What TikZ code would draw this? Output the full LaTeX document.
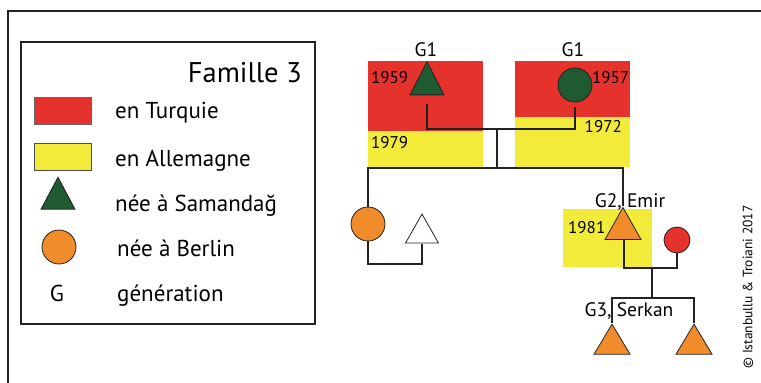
\documentclass[tikz,border=0pt]{standalone}
\usepackage{fontspec}
\setmainfont{PT Sans}
\usetikzlibrary{shapes.geometric}

\definecolor{TurkeyRed}{HTML}{E5322D}
\definecolor{GermanyYellow}{HTML}{F3EB3A}
\definecolor{BerlinOrange}{HTML}{F08C2A}
\definecolor{SamandagGreen}{HTML}{1F5A32}
\definecolor{LineGray}{HTML}{222222}

\providecommand{\LegendSize}{\fontsize{23}{27}\selectfont}
\providecommand{\TitleSize}{\fontsize{28.5}{32}\selectfont}
\providecommand{\LabelSize}{\fontsize{19.5}{22}\selectfont}
\providecommand{\YearSize}{\fontsize{17}{20}\selectfont}

\tikzset{
    male/.style={
        isosceles triangle,
        isosceles triangle stretches,
        shape border rotate=90,
        draw=LineGray,
        line width=0.8pt,
        inner sep=0pt,
        minimum width=34pt,
        minimum height=32pt
    },
    female/.style={
        circle,
        draw=LineGray,
        line width=0.8pt,
        inner sep=0pt,
        minimum size=34pt
    },
    link/.style={draw=LineGray, line width=1.3pt},
    legtext/.style={anchor=base west, font=\LegendSize, inner sep=0pt},
    label/.style={anchor=base, font=\LabelSize, inner sep=0pt},
    year/.style={font=\YearSize, inner sep=0pt}
}

\begin{document}
\begin{tikzpicture}[x=1pt,y=-1pt]

% Page size
\useasboundingbox (0,0) rectangle (761,383);
\fill[white] (0,0) rectangle (761,383);

% =====================================================
% OUTER FRAME
% =====================================================
\draw[line width=2.2pt, LineGray] (8,383) -- (8,11) -- (761,11);

% =====================================================
% LEGEND
% =====================================================
\draw[line width=1.4pt, LineGray] (21,42) rectangle (315,324);

\node[anchor=base east, font=\TitleSize, inner sep=0pt] (title) at (302,82) {Famille 3};

\filldraw[fill=TurkeyRed, draw=black!60, line width=0.6pt] (34,97) rectangle (91,124);
\filldraw[fill=GermanyYellow, draw=black!70, line width=0.6pt] (34,143) rectangle (91,170);
\node[male, fill=SamandagGreen] (legmale) at (58,199) {};
\node[female, fill=BerlinOrange] (legfemale) at (59,247) {};
\node[anchor=base, font=\LegendSize, inner sep=0pt] (legG) at (57,301) {G};

\foreach \txt/\x/\y [count=\i] in {en Turquie/115/118, en Allemagne/115/166,
    née à Samandağ/115/211, née à Berlin/117/256, génération/117/301} {
    \node[legtext] (leg\i) at (\x,\y) {\txt};
}

% =====================================================
% G1 : PARENTS
% =====================================================
\fill[TurkeyRed] (368,61) rectangle (483,131);
\fill[GermanyYellow] (368,131) rectangle (483,167);
\fill[TurkeyRed] (515,61) rectangle (630,117);
\fill[GermanyYellow] (515,117) rectangle (630,167);

\node[label] (gOneA) at (426,56) {G1};
\node[label] (gOneB) at (573,56) {G1};

\node[year, anchor=base west] (yOne) at (371,83) {1959};
\node[year, anchor=base west] (yTwo) at (371,148) {1979};
\node[year, anchor=base west] (yThree) at (592,83) {1957};
\node[year, anchor=base east] (yFour) at (622,132) {1972};

\node[male, fill=SamandagGreen, minimum height=33pt] (father) at (427,84.5) {};
\node[female, fill=SamandagGreen] (mother) at (575,85) {};

% marriage and descent
\coordinate (fDrop) at (427,129);
\coordinate (mDrop) at (575,129);
\coordinate (kidsTop) at (497,129);
\coordinate (kidsBar) at (497,168);
\draw[link] ([yshift=-9pt]father.south) -- (fDrop) -- (mDrop) -- ([yshift=-5pt]mother.south);
\draw[link] (kidsTop) -- (kidsBar);

% =====================================================
% G2 : CHILDREN
% =====================================================
\fill[GermanyYellow] (563,209) rectangle (652,267);

\node[female, fill=BerlinOrange] (daughter) at (368,224) {};
\node[male, fill=white, minimum width=33pt, minimum height=29pt] (sonInLaw) at (422,233.5) {};
\node[male, fill=BerlinOrange, minimum width=36pt] (emir) at (623,229) {};
\node[female, fill=TurkeyRed, minimum size=26pt] (wife) at (677,240) {};

\coordinate (barLeft) at (368,168);
\coordinate (barRight) at (623,168);
\draw[link] (daughter.north) -- (barLeft) -- (barRight) -- (emir.north);

\node[label] (emirName) at (630,207) {G2, Emir};
\node[year, anchor=base west] (yFive) at (568,233) {1981};

% daughter's couple
\coordinate (dDrop) at (368,264);
\coordinate (sDrop) at (422,264);
\draw[link] (daughter.south) -- (dDrop) -- (sDrop) -- (sonInLaw.south);

% Emir's couple
\coordinate (eDrop) at (624,268);
\coordinate (wDrop) at (677,268);
\draw[link] ([xshift=1pt]emir.south) -- (eDrop) -- (wDrop) -- (wife.south);

% =====================================================
% G3 : GRANDCHILDREN
% =====================================================
\node[male, fill=BerlinOrange, minimum width=36pt, minimum height=30pt] (serkan) at (612,344) {};
\node[male, fill=BerlinOrange, minimum width=36pt, minimum height=30pt] (brother) at (694,344) {};

\coordinate (gTop) at (652,268);
\coordinate (gBar) at (652,298);
\coordinate (gLeft) at (612,298);
\coordinate (gRight) at (694,298);
\draw[link] (gTop) -- (gBar);
\draw[link] (serkan.north) -- (gLeft) -- (gRight) -- (brother.north);

\node[label] (serkanName) at (629,316) {G3, Serkan};

% Copyright
\node[rotate=90, font=\fontsize{13.5}{16}\selectfont, inner sep=0pt] (copy) at (748,287) {© Istanbullu \& Troiani 2017};

\end{tikzpicture}
\end{document}
